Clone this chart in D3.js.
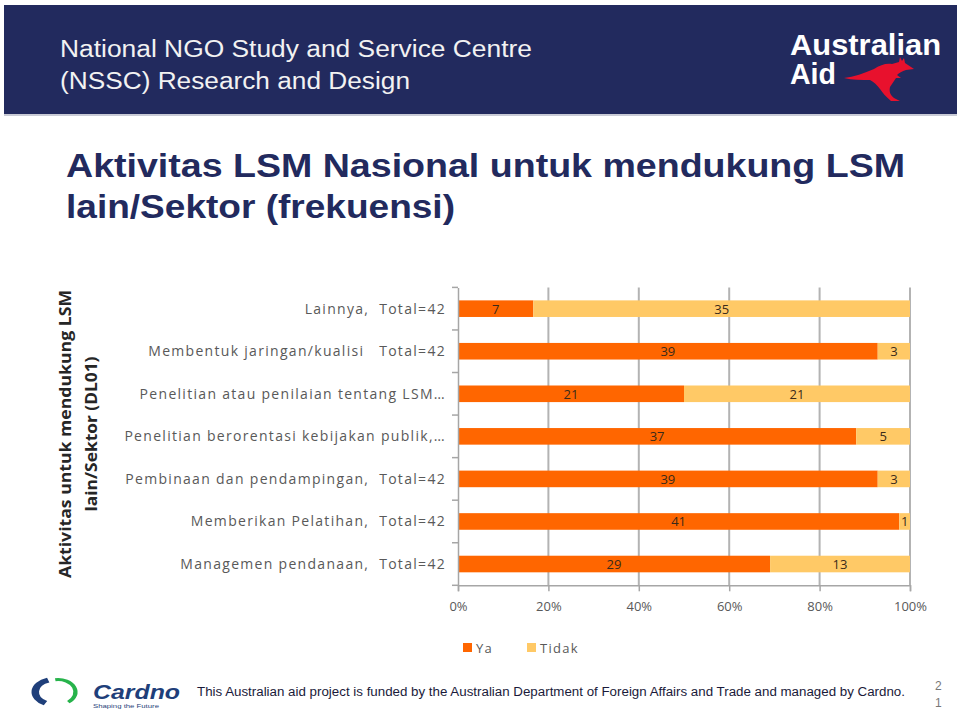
<!DOCTYPE html>
<html lang="en">
<head>
    <meta charset="UTF-8">
    <title>Aktivitas LSM Nasional</title>
    <style>
        body { margin: 0; background: #ffffff; }
        svg { display: block; }
        .cat { font-family: "Open Sans", sans-serif; font-size: 14px; fill: #595959; letter-spacing: 1.3px; white-space: pre; }
        .tick-x { font-family: "Open Sans", sans-serif; font-size: 13px; fill: #595959; }
        .val { font-family: "Open Sans", sans-serif; font-size: 13px; fill: #3a2a1a; }
        .grid { stroke: #b3b3b3; stroke-width: 2px; }
        .axis-line { stroke: #a6a6a6; stroke-width: 1.5px; }
    </style>
</head>
<body>
    <script src="https://d3js.org/d3.v7.min.js"></script>
    <script>
        var width = 957;
        var height = 720;

        // data, top row first
        var categories = [
            "Lainnya,  Total=42",
            "Membentuk jaringan/kualisi   Total=42",
            "Penelitian atau penilaian tentang LSM\u2026",
            "Penelitian berorentasi kebijakan publik,\u2026",
            "Pembinaan dan pendampingan,  Total=42",
            "Memberikan Pelatihan,  Total=42",
            "Managemen pendanaan,  Total=42"
        ];
        var ya    = [7, 39, 21, 37, 39, 41, 29];
        var tidak = [35, 3, 21, 5, 3, 1, 13];
        var seriesNames = ["Ya", "Tidak"];
        var seriesColors = ["#ff6600", "#ffc966"];
        var xTicks = [0, 0.2, 0.4, 0.6, 0.8, 1];

        var svg = d3.select("body").append("svg")
            .attr("width", width)
            .attr("height", height);

        // ---- header banner ----
        svg.append("rect")
            .attr("x", 4).attr("y", 5)
            .attr("width", width - 4).attr("height", 109)
            .attr("fill", "#222a5e");
        svg.append("rect")
            .attr("x", 4).attr("y", 114)
            .attr("width", width - 4).attr("height", 2)
            .attr("fill", "#c9cbd6");

        svg.append("text")
            .attr("x", 60).attr("y", 57)
            .attr("textLength", 472).attr("lengthAdjust", "spacingAndGlyphs")
            .style("font-family", "Liberation Sans Narrow, Liberation Sans, sans-serif")
            .style("font-size", "23px").style("fill", "#f2f2f2")
            .text("National NGO Study and Service Centre");
        svg.append("text")
            .attr("x", 60).attr("y", 89)
            .attr("textLength", 350).attr("lengthAdjust", "spacingAndGlyphs")
            .style("font-family", "Liberation Sans Narrow, Liberation Sans, sans-serif")
            .style("font-size", "23px").style("fill", "#f2f2f2")
            .text("(NSSC) Research and Design");

        // Australian Aid logo
        var logo = svg.append("g");
        logo.append("text")
            .attr("x", 790).attr("y", 55)
            .attr("textLength", 151).attr("lengthAdjust", "spacingAndGlyphs")
            .style("font-family", "Liberation Sans, sans-serif").style("font-weight", "bold")
            .style("font-size", "29px").style("fill", "#ffffff")
            .text("Australian");
        logo.append("text")
            .attr("x", 790).attr("y", 84)
            .attr("textLength", 46).attr("lengthAdjust", "spacingAndGlyphs")
            .style("font-family", "Liberation Sans, sans-serif").style("font-weight", "bold")
            .style("font-size", "29px").style("fill", "#ffffff")
            .text("Aid");
        logo.append("path")
            .attr("transform", "translate(844,60)")
            .attr("fill", "#e8112d")
            .attr("d", "M0,18 C10,17 20,13 30,9 C36,5 42,3 48,4 L55,2 L56,-3 L58,1 L60,-2 L61,3 " +
                "C64,5 67,7 70,9 L62,10 C58,11 55,13 53,15 L57,18 L52,18 C50,21 48,24 46,27 " +
                "C45,31 46,35 50,38 L56,41 L47,41 C42,37 38,32 36,29 C33,25 30,22 26,20 C18,20 8,20 0,18 Z");

        // ---- slide title ----
        svg.append("text")
            .attr("x", 66).attr("y", 177)
            .attr("textLength", 839).attr("lengthAdjust", "spacingAndGlyphs")
            .style("font-family", "Liberation Sans, sans-serif").style("font-weight", "bold")
            .style("font-size", "33px").style("fill", "#222a5e")
            .text("Aktivitas LSM Nasional untuk mendukung LSM");
        svg.append("text")
            .attr("x", 66).attr("y", 218)
            .attr("textLength", 389).attr("lengthAdjust", "spacingAndGlyphs")
            .style("font-family", "Liberation Sans, sans-serif").style("font-weight", "bold")
            .style("font-size", "33px").style("fill", "#222a5e")
            .text("lain/Sektor (frekuensi)");

        // ---- chart ----
        var rows = categories.map(function(c, i) {
            var total = ya[i] + tidak[i];
            return { cat: c, values: [ya[i], tidak[i]], total: total };
        });

        var x = d3.scaleLinear().domain([0, 1]).range([458, 910]);
        var y = d3.scaleBand().domain(categories).range([287.4, 585.3]);
        var barH = y.bandwidth() * 0.39;

        var chart = svg.append("g");

        // vertical gridlines
        chart.selectAll(".grid")
            .data(xTicks.slice(1))
            .enter().append("line")
            .attr("class", "grid")
            .attr("x1", function(d) { return x(d); })
            .attr("x2", function(d) { return x(d); })
            .attr("y1", y.range()[0])
            .attr("y2", y.range()[1]);

        // stacked segments
        var stack = d3.stack().keys([0, 1]).value(function(d, k) { return d.values[k] / d.total; });
        var layers = stack(rows);

        var layer = chart.selectAll(".layer")
            .data(layers)
            .enter().append("g")
            .attr("fill", function(d, i) { return seriesColors[i]; });

        layer.selectAll("rect")
            .data(function(d) { return d; })
            .enter().append("rect")
            .attr("x", function(d) { return x(d[0]); })
            .attr("width", function(d) { return x(d[1]) - x(d[0]); })
            .attr("y", function(d) { return y(d.data.cat) + (y.bandwidth() - barH) / 2; })
            .attr("height", barH);

        layer.selectAll(".val")
            .data(function(d, i) { return d.map(function(s) { return { s: s, k: i }; }); })
            .enter().append("text")
            .attr("class", "val")
            .attr("text-anchor", "middle")
            .attr("x", function(d) { return x((d.s[0] + d.s[1]) / 2); })
            .attr("y", function(d) { return y(d.s.data.cat) + y.bandwidth() / 2 + 5; })
            .text(function(d) { return d.s.data.values[d.k]; });

        // left axis with category labels
        var yAxis = d3.axisLeft(y).tickSize(0).tickPadding(12);
        var gy = chart.append("g")
            .attr("transform", "translate(" + x(0) + ",0)")
            .call(yAxis);
        gy.select(".domain").attr("class", "axis-line").attr("fill", "none");
        gy.selectAll("text").attr("class", "cat").attr("dy", "0.35em");
        // boundary ticks between categories
        var bounds = d3.range(categories.length + 1).map(function(i) { return y.range()[0] + i * y.step(); });
        chart.selectAll(".ytick")
            .data(bounds)
            .enter().append("line")
            .attr("class", "axis-line")
            .attr("x1", x(0) - 6).attr("x2", x(0))
            .attr("y1", function(d) { return d; })
            .attr("y2", function(d) { return d; });

        // bottom axis
        var xAxis = d3.axisBottom(x).tickValues(xTicks).tickFormat(d3.format(".0%")).tickSize(6).tickPadding(10);
        var gx = chart.append("g")
            .attr("transform", "translate(0," + y.range()[1] + ")")
            .call(xAxis);
        gx.select(".domain").attr("class", "axis-line").attr("fill", "none");
        gx.selectAll("line").attr("class", "axis-line");
        gx.selectAll("text").attr("class", "tick-x");

        // y axis title
        var yTitle = svg.append("text")
            .attr("transform", "translate(71,434) rotate(-90)")
            .attr("text-anchor", "middle")
            .style("font-family", "Open Sans, sans-serif").style("font-weight", "bold")
            .style("font-size", "16px").style("fill", "#262626");
        yTitle.append("tspan").attr("x", 0).attr("y", 0)
            .attr("textLength", 288).attr("lengthAdjust", "spacingAndGlyphs")
            .text("Aktivitas untuk mendukung LSM");
        yTitle.append("tspan").attr("x", 0).attr("y", 26)
            .attr("textLength", 155).attr("lengthAdjust", "spacingAndGlyphs")
            .text("lain/Sektor (DL01)");

        // legend
        var legend = svg.append("g").selectAll("g")
            .data(seriesNames)
            .enter().append("g")
            .attr("transform", function(d, i) { return "translate(" + [463, 527][i] + ",643)"; });
        legend.append("rect")
            .attr("width", 9).attr("height", 9)
            .attr("fill", function(d, i) { return seriesColors[i]; });
        legend.append("text")
            .attr("x", 13).attr("y", 9.5)
            .style("font-family", "Open Sans, sans-serif").style("font-size", "13px")
            .style("letter-spacing", "1.3px").style("fill", "#595959")
            .text(function(d) { return d; });

        // ---- footer ----
        var footArc = d3.arc();
        svg.append("path")
            .attr("transform", "translate(54,692) scale(1.5,1)")
            .attr("fill", "#1f3f7a")
            .attr("d", footArc({ innerRadius: 10, outerRadius: 15, startAngle: Math.PI * 1.15, endAngle: Math.PI * 1.9 }));
        svg.append("path")
            .attr("transform", "translate(58,692) scale(1.4,1)")
            .attr("fill", "#27b34b")
            .attr("d", footArc({ innerRadius: 11, outerRadius: 14, startAngle: -Math.PI * 0.05, endAngle: Math.PI * 0.8 }));
        svg.append("text")
            .attr("x", 93).attr("y", 699)
            .attr("textLength", 87).attr("lengthAdjust", "spacingAndGlyphs")
            .style("font-family", "Liberation Sans, sans-serif").style("font-weight", "bold")
            .style("font-style", "italic").style("font-size", "20px").style("fill", "#1f3f7a")
            .text("Cardno");
        svg.append("text")
            .attr("x", 93).attr("y", 708)
            .attr("textLength", 66).attr("lengthAdjust", "spacingAndGlyphs")
            .style("font-family", "Liberation Sans, sans-serif").style("font-size", "6px").style("fill", "#1f3f7a")
            .text("Shaping the Future");
        svg.append("text")
            .attr("x", 197).attr("y", 696)
            .attr("textLength", 708).attr("lengthAdjust", "spacingAndGlyphs")
            .style("font-family", "Liberation Sans Narrow, Liberation Sans, sans-serif")
            .style("font-size", "12px").style("fill", "#1a1a3a")
            .text("This Australian aid project is funded by the Australian Department of Foreign Affairs and Trade and managed by Cardno.");
        svg.append("text").attr("x", 935).attr("y", 690)
            .style("font-family", "Liberation Sans, sans-serif").style("font-size", "12px").style("fill", "#777")
            .text("2");
        svg.append("text").attr("x", 935).attr("y", 707)
            .style("font-family", "Liberation Sans, sans-serif").style("font-size", "12px").style("fill", "#777")
            .text("1");
    </script>
</body>
</html>
